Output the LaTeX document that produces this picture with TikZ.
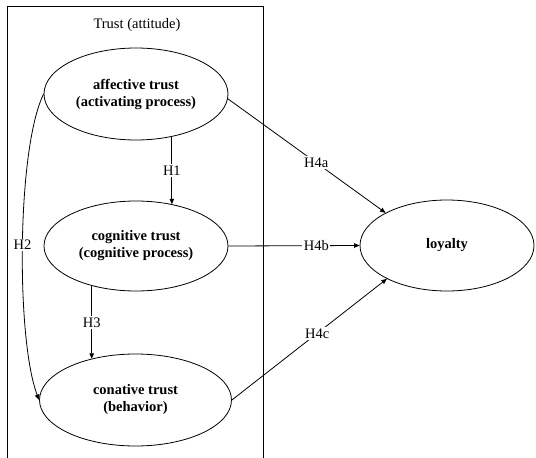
\documentclass[tikz,border=0pt]{standalone}
\usepackage{fontspec}
\setmainfont{Liberation Serif}
\usetikzlibrary{shapes.geometric,arrows.meta}

\begin{document}
\begin{tikzpicture}[x=1pt,y=-1pt,
  line width=0.8pt,
  every node/.style={font=\fontsize{14.5}{17}\selectfont},
  construct/.style={ellipse,draw,inner sep=0pt,align=center,
    font=\fontsize{14.5}{17}\selectfont\bfseries},
  arr/.style={-{Triangle[length=5.5pt,width=4.5pt]}},
  lbl/.style={fill=white,inner sep=1.5pt}]

  \useasboundingbox (0,0) rectangle (536,458);

  % frame of the trust block (open at the bottom)
  \draw (7,460) -- (7,6) -- (263,6) -- (263,460);
  \node[anchor=base] (title) at (137,28) {Trust (attitude)};

  % constructs
  \node[construct,minimum width=184pt,minimum height=92pt] (aff) at (136,94)
    {affective trust\\(activating process)};
  \node[construct,minimum width=184pt,minimum height=90pt] (cog) at (136,246)
    {cognitive trust\\(cognitive process)};
  \node[construct,minimum width=192pt,minimum height=92pt] (con) at (135.5,400)
    {conative trust\\(behavior)};
  \node[construct,minimum width=174pt,minimum height=91pt] (loy) at (447,245.5)
    {loyalty};

  % hypotheses inside the trust block
  \draw[arr] (aff.-50) -- node[lbl,pos=0.5] (h1) {H1} (aff.-50 |- cog.49);
  \draw[arr] (cog.-138) -- node[lbl,pos=0.5] (h3) {H3} (cog.-138 |- con.137);
  \draw[arr] (aff.west) .. controls +(-27,55) and +(-23,-60) ..
    node[lbl,pos=0.5] (h2) {H2} (con.west);

  % hypotheses towards loyalty
  \draw[arr] (aff.-3) -- node[lbl,pos=0.56] (h4a) {H4a} (loy.152);
  \draw[arr] (cog.east) -- node[lbl,pos=0.67] (h4b) {H4b} (loy.west);
  \draw[arr] (con.east) -- node[lbl,pos=0.55] (h4c) {H4c} (loy.-151);
\end{tikzpicture}
\end{document}
